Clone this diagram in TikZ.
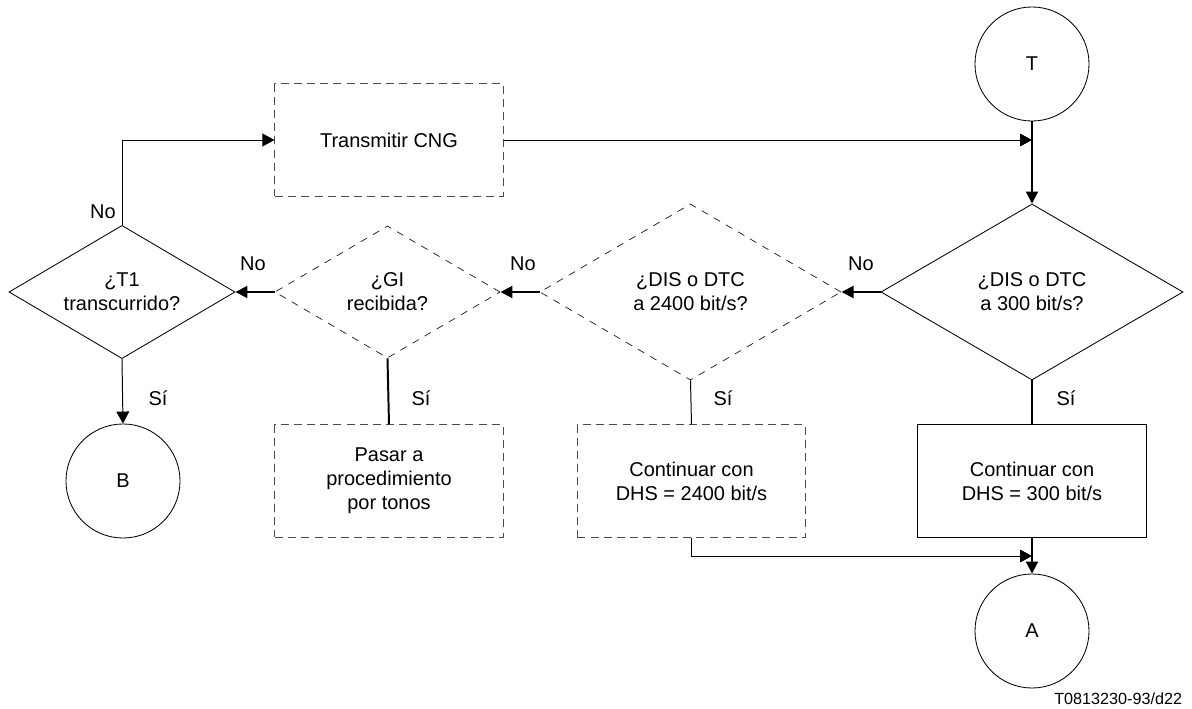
\documentclass[tikz,border=0pt]{standalone}
\usepackage{fontspec}
\setmainfont{Liberation Sans}
\usetikzlibrary{shapes.geometric,arrows.meta}
\tikzstyle{connector} = [draw,shape=circle,minimum size=2.85cm,inner sep=0pt,line width=0.6pt]
\tikzstyle{process} = [draw,shape=rectangle,minimum width=5.7cm,minimum height=2.8cm,align=center,line width=0.7pt]
\tikzstyle{decision} = [draw,shape=diamond,aspect=1.7,inner sep=0pt,align=center,line width=0.6pt]
\tikzstyle{planned} = [draw=black!70,dash pattern=on 0.2cm off 0.13cm]
\tikzstyle{plannedtest} = [draw=black!90,line width=0.5pt,dash pattern=on 0.18cm off 0.17cm]
\tikzstyle{thinline} = [line width=0.7pt]
\tikzstyle{thickline} = [line width=1.4pt]
\tikzstyle{flow} = [thinline,-{Triangle[length=0.3cm,width=0.32cm]}]
\tikzstyle{flowthick} = [thickline,-{Triangle[length=0.3cm,width=0.3cm]}]
\tikzstyle{answer} = [inner sep=0pt]

\begin{document}
\begin{tikzpicture}[x=0.025cm,y=-0.025cm,font=\fontsize{14.2}{17}\selectfont]
\useasboundingbox (0,0) rectangle (1192,709);

\node[connector] (T) at (1032,64) {T};
\node[process,planned] (cng) at (389,140) {Transmitir CNG};
\node[decision,minimum width=5.65cm,minimum height=3.33cm] (t1) at (122,292) {¿T1\\transcurrido?};
\node[decision,plannedtest,minimum width=5.63cm,minimum height=3.3cm] (gi) at (387.5,292) {¿GI\\recibida?};
\node[decision,plannedtest,minimum width=7.53cm,minimum height=4.4cm] (d2400) at (690.5,292) {¿DIS o DTC\\a 2400 bit/s?};
\node[decision,minimum width=7.55cm,minimum height=4.4cm] (d300) at (1032,292) {¿DIS o DTC\\a 300 bit/s?};
\node[connector] (B) at (123,481) {B};
\node[process,planned] (tonos) at (389,481) {Pasar a\\procedimiento\\por tonos};
\node[process,planned] (c2400) at (691.5,481) {Continuar con\\DHS = 2400 bit/s};
\node[process] (c300) at (1032,481) {Continuar con\\DHS = 300 bit/s};
\node[connector] (A) at (1032,631) {A};
\node[anchor=east,font=\fontsize{11.5}{13}\selectfont] (ref) at (1187,699) {T0813230-93/d22};

% answers
\node[answer] (no1) at (103,212) {No};
\node[answer] (no2) at (253,264) {No};
\node[answer] (no3) at (523,264) {No};
\node[answer] (no4) at (861,264) {No};
\node[answer] (si1) at (158,398) {Sí};
\node[answer] (si2) at (421,398) {Sí};
\node[answer] (si3) at (723,398) {Sí};
\node[answer] (si4) at (1066,398) {Sí};

\coordinate (jt) at (T.south |- cng.east);
\coordinate (ja) at (1032,556);

\draw[flow] (t1.north) |- (cng.west);
\draw[flow] (cng.east) -- (jt);
\draw[flowthick] (T.south) -- (d300.north);
\draw[flowthick] (d300.west) -- (d2400.east);
\draw[flowthick] (d2400.west) -- (gi.east);
\draw[flowthick] (gi.west) -- (t1.east);
\draw[flow] (t1.south) -- (B.north);
\draw[thickline] (gi.south) -- (tonos.north);
\draw[thinline] (d2400.south) -- (c2400.north);
\draw[thickline] (d300.south) -- (c300.north);
\draw[flow] (c2400.south) |- (ja);
\draw[flowthick] (c300.south) -- (A.north);
\end{tikzpicture}
\end{document}
